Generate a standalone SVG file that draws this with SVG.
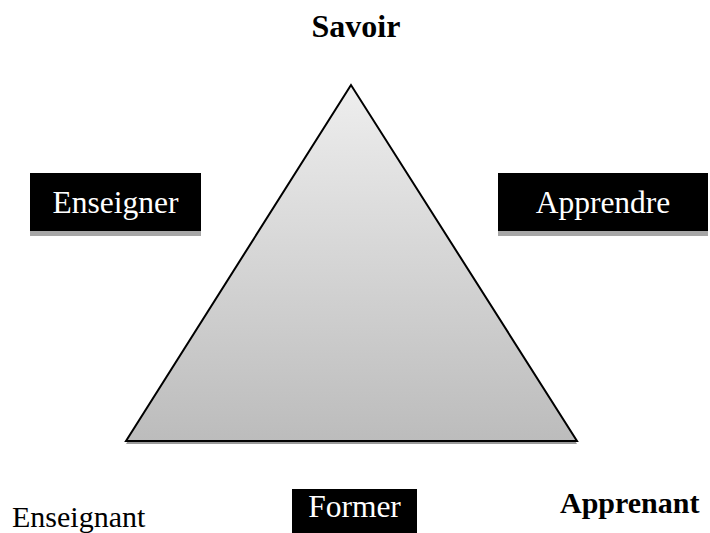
<svg xmlns="http://www.w3.org/2000/svg" width="710" height="533" viewBox="0 0 710 533">
<defs>
<linearGradient id="tri" x1="0" y1="0" x2="0" y2="1">
<stop offset="0" stop-color="#eeeeee"/>
<stop offset="1" stop-color="#bcbcbc"/>
</linearGradient>
<style>
.box{fill:#000}
.shadow{fill:#a6a6a6}
.wt{font-family:"Liberation Serif","Times New Roman",serif;font-size:31.5px;fill:#fff;text-anchor:middle}
.bt{font-family:"Liberation Serif","Times New Roman",serif;font-size:30px;fill:#000}
.bold{font-weight:bold}
</style>
</defs>
<rect width="710" height="533" fill="#fff"/>
<g id="triangle">
<polygon points="351,88 126,444 577,444" fill="#9a9a9a"/>
<polygon points="351,85 126,441 577,441" fill="url(#tri)" stroke="#000" stroke-width="2" stroke-linejoin="miter"/>
</g>
<g id="savoir"><text class="bt bold" x="356" y="37" text-anchor="middle" style="font-size:32px">Savoir</text></g>
<g id="enseigner">
<rect class="shadow" x="30" y="231" width="171" height="5"/>
<rect class="box" x="30" y="173" width="171" height="58"/>
<text class="wt" x="115.5" y="213">Enseigner</text>
</g>
<g id="apprendre">
<rect class="shadow" x="498" y="231" width="210" height="5"/>
<rect class="box" x="498" y="173" width="210" height="58"/>
<text class="wt" x="603" y="213">Apprendre</text>
</g>
<g id="former">
<rect class="box" x="292" y="489" width="125" height="44"/>
<text class="wt" x="354.5" y="517">Former</text>
</g>
<g id="enseignant"><text class="bt" x="12" y="527">Enseignant</text></g>
<g id="apprenant"><text class="bt bold" x="560" y="513">Apprenant</text></g>
<g id="connectors"/>
</svg>
